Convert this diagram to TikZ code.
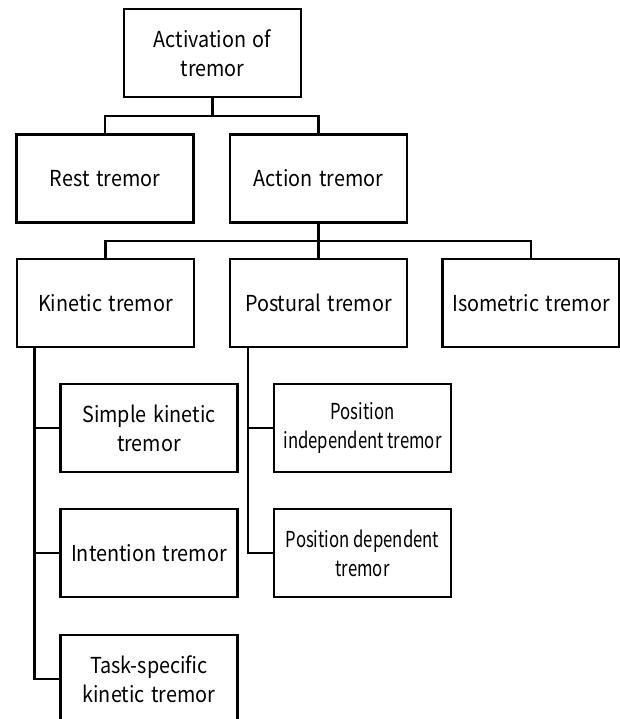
\documentclass[tikz,border=0pt]{standalone}
\usepackage{fontspec}
\setmainfont[FakeStretch=0.9, WordSpace=1.5]{Noto Sans CJK KR}
\newfontfamily\narrowfont[FakeStretch=0.76]{Noto Sans CJK KR}
\usetikzlibrary{positioning}

\begin{document}
\begin{tikzpicture}[
  x=1pt, y=-1pt,
  bx/.style={draw, line width=2.2pt, minimum width=177pt, minimum height=88pt,
             inner sep=2pt, align=center, font=\fontsize{22}{29}\selectfont},
  nbx/.style={bx, font=\fontsize{22}{29}\narrowfont},
  ln/.style={line width=2.2pt}
]
\useasboundingbox (0,0) rectangle (620,719);
\clip (0,0) rectangle (620,719);

% Top level
\node[bx] (act) at (212.5,53) {Activation of\\tremor};

% Second row
\node[bx] (rest)   at (105,178.5)   {Rest tremor};
\node[bx] (action) at (318.5,178.5) {Action tremor};

% Third row
\node[bx] (kin)  at (105.5,303) {Kinetic tremor};
\node[bx] (post) at (318.5,303) {Postural tremor};
\node[bx] (iso)  at (531,303)   {Isometric tremor};

% Kinetic subtypes
\node[bx] (simple) at (149,428) {Simple kinetic\\tremor};
\node[bx] (intent) at (149,553) {Intention tremor};
\node[bx] (task)   at (149,679) {Task-specific\\kinetic tremor};

% Postural subtypes
\node[nbx] (posind) at (362.5,428) {Position\\independent tremor};
\node[nbx] (posdep) at (362.5,553) {Position dependent\\tremor};

% Junctions
\coordinate (j1) at (212.5,116);
\coordinate (j2) at (318.5,241);
\coordinate (kspine) at (34.5,347);
\coordinate (pspine) at (248,347);

% Connectors
\draw[ln] (act.south) -- (j1);
\draw[ln] (rest.north) |- (j1) -| (action.north);
\draw[ln] (action.south) -- (j2) -- (post.north);
\draw[ln] (kin.north) |- (j2) -| (iso.north);
\foreach \n in {simple,intent,task}
  \draw[ln] (kspine) |- (\n.west);
\foreach \n in {posind,posdep}
  \draw[ln] (pspine) |- (\n.west);
\end{tikzpicture}
\end{document}
